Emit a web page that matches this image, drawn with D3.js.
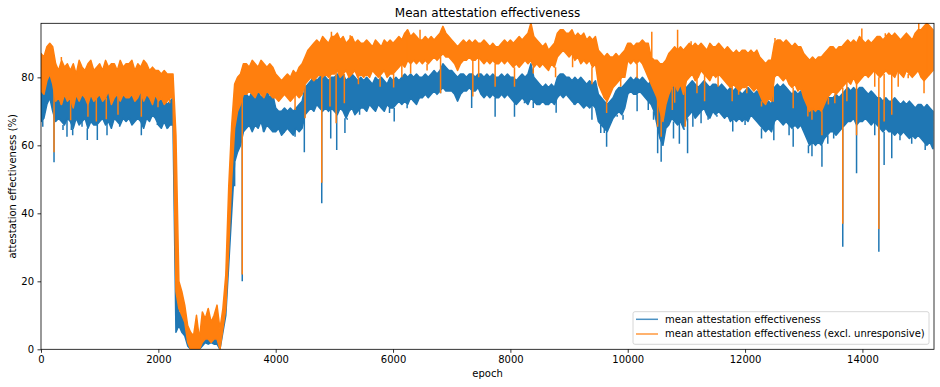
<!DOCTYPE html>
<html>
<head>
<meta charset="utf-8">
<script src="https://cdn.jsdelivr.net/npm/d3@7"></script>
<style>
  body { margin: 0; background: #fff; }
  text { font-family: "DejaVu Sans", sans-serif; fill: #000; }
</style>
</head>
<body>
<script>
// The raw series has one value per epoch, so it is drawn as the band it
// forms on screen: lowest and highest value for every
// 50-epoch bin, plus the single-epoch spikes that stick out of the band.
const epochStep = 50;

// mean attestation effectiveness
const meanHi = [
  80, 79, 82, 84, 83, 77, 76, 77, 75, 76,
  75, 76, 74, 76, 75, 77, 74, 76, 75, 77,
  76, 77, 75, 76, 77, 75, 76, 77, 76, 75,
  76, 75, 77, 76, 75, 76, 77, 75, 76, 75,
  74, 73, 74, 72, 73, 74, 20, 11, 10, 8,
  5, 2, 1, 2, 2, 3, 3.5, 3, 3, 3,
  3, 3, 9, 18, 36, 64, 68, 72, 72, 75,
  75, 74, 76, 75, 76, 74, 75, 76, 74, 75,
  71, 70, 70, 71, 70, 71, 70, 71, 72, 73,
  77, 78, 79, 80, 79, 80, 81, 80, 79, 80,
  80, 81, 80, 81, 79, 80, 81, 80, 79, 80,
  79, 80, 79, 78, 80, 79, 80, 79, 78, 80,
  79, 80, 79, 80, 81, 80, 81, 80, 81, 80,
  80, 81, 80, 81, 82, 81, 82, 84, 83, 82,
  82, 81, 80, 81, 81, 80, 81, 81, 80, 81,
  81, 80, 81, 80, 81, 80, 80, 81, 80, 81,
  80, 80, 79, 80, 81, 80, 81, 84, 80, 79,
  78, 77, 78, 77, 78, 77, 80, 81, 81, 80,
  80, 79, 80, 79, 80, 79, 78, 79, 78, 79,
  75, 74, 73, 72, 73, 74, 76, 77, 77, 78,
  79, 80, 79, 80, 79, 80, 79, 78, 79, 78,
  77, 76, 75, 76, 78, 79, 78, 79, 78, 77,
  77, 78, 79, 78, 77, 78, 79, 78, 77, 78,
  78, 77, 78, 77, 76, 77, 76, 77, 76, 75,
  76, 77, 76, 75, 76, 75, 73, 72, 73, 72,
  77, 78, 77, 78, 77, 76, 75, 76, 75, 76,
  74, 73, 72, 73, 72, 73, 72, 73, 74, 74,
  74, 75, 74, 75, 76, 77, 76, 77, 76, 77,
  77, 76, 75, 76, 75, 74, 74, 73, 74, 73,
  73, 74, 73, 72, 73, 72, 73, 72, 71, 72,
  72, 71, 72, 71, 70
];
const meanLo = [
  67, 68, 72, 74, 70, 67, 68, 67, 66, 68,
  67, 65, 68, 66, 67, 68, 65, 67, 66, 66,
  67, 68, 66, 67, 65, 68, 67, 66, 68, 67,
  68, 66, 67, 68, 67, 65, 68, 67, 69, 68,
  66, 65, 67, 65, 66, 66, 5, 7, 5, 4,
  1, 0, 0, 0, 0, 1, 2, 1.5, 2, 1.5,
  1.5, 0, 5, 10, 25, 40, 55, 58, 60, 64,
  65, 66, 64, 66, 65, 67, 64, 66, 65, 64,
  64, 65, 63, 64, 65, 64, 63, 65, 64, 65,
  69, 70, 71, 70, 72, 71, 70, 71, 70, 71,
  70, 69, 71, 70, 68, 70, 71, 69, 70, 71,
  71, 70, 72, 71, 70, 72, 71, 70, 72, 71,
  71, 72, 73, 72, 73, 72, 74, 73, 72, 74,
  74, 75, 74, 75, 76, 75, 76, 77, 76, 76,
  76, 75, 73, 75, 76, 76, 77, 76, 76, 77,
  75, 74, 75, 74, 75, 74, 74, 75, 74, 75,
  74, 73, 72, 73, 74, 73, 72, 74, 73, 72,
  72, 73, 72, 72, 73, 72, 74, 75, 74, 75,
  74, 73, 72, 73, 72, 71, 72, 71, 72, 71,
  67, 66, 65, 64, 66, 68, 69, 70, 69, 71,
  75, 76, 75, 75, 76, 75, 74, 73, 72, 70,
  66, 62, 60, 65, 66, 68, 67, 66, 67, 65,
  68, 69, 70, 68, 69, 70, 71, 69, 68, 70,
  69, 70, 69, 68, 69, 67, 68, 67, 68, 67,
  68, 67, 69, 68, 67, 66, 65, 64, 65, 64,
  67, 68, 67, 66, 67, 66, 65, 66, 65, 66,
  64, 62, 60, 61, 60, 61, 60, 62, 63, 64,
  64, 63, 64, 65, 66, 67, 67, 68, 66, 67,
  67, 68, 67, 66, 67, 66, 65, 64, 65, 64,
  64, 63, 64, 63, 64, 63, 62, 63, 62, 63,
  62, 61, 60, 61, 59
];
// [epoch, value]
const meanSpikes = [
  [30, 65.5], [222, 55], [278, 68.9], [375, 64.5], [443, 62.5], [517, 64.5],
  [540, 63], [699, 65.5], [789, 61.6], [960, 61.6], [1125, 63], [1341, 65.5],
  [1454, 67.4], [1710, 63], [1983, 66.5], [2165, 65.5], [2222, 66.5],
  [3300, 48], [3430, 20], [3790, 65.5], [3989, 64.5], [4142, 63.6], [4330, 62.5],
  [4488, 58], [4785, 43], [4938, 62], [5040, 58.6], [5180, 63.6], [5220, 67.5],
  [5430, 69], [5670, 70.4], [5940, 69.5], [6020, 67], [6240, 70.9], [6440, 73.8],
  [6810, 75.3], [7085, 73], [7340, 71], [7740, 68.4], [8070, 68.4], [8240, 72.4],
  [8390, 71], [8620, 72.4], [8780, 69.6], [9080, 72.4], [9310, 71.4], [9390, 67.5],
  [9540, 63.6], [9600, 63.6], [9640, 59.6], [9820, 68.4], [9920, 67.5], [10160, 70],
  [10350, 70.4], [10440, 67.5], [10510, 57.7], [10570, 55.2], [10780, 62],
  [10880, 60.5], [10960, 64.5], [11020, 57.7], [11110, 65.5], [11250, 66.5],
  [11370, 67.5], [11520, 68.4], [11790, 64.1], [12000, 66], [12280, 62],
  [12390, 64.5], [12490, 61.5], [12750, 63], [12820, 59.6], [13080, 57.7],
  [13140, 56.8], [13310, 53.7], [13410, 60.5], [13510, 62], [13665, 30.2],
  [13900, 51.8], [14050, 67.5], [14210, 63], [14280, 28.7], [14370, 54.2],
  [14500, 56.2], [14640, 61.5], [14840, 60.5], [15070, 58.6], [15210, 59]
];

// mean attestation effectiveness (excl. unresponsive)
const exclHi = [
  87, 86, 89, 90, 89, 84, 82, 85, 83, 84,
  82, 84, 81, 85, 83, 82, 84, 85, 82, 83,
  84, 82, 85, 83, 84, 84, 82, 85, 83, 84,
  84, 85, 82, 84, 83, 85, 84, 82, 83, 82,
  82, 81, 82, 81, 81, 81, 63, 20, 17, 13,
  7, 5, 4, 10, 3, 11, 9, 12, 8, 10,
  13, 6, 12, 22, 48, 66, 78, 80, 81, 84,
  84, 83, 85, 84, 83, 85, 84, 83, 84, 83,
  81, 80, 79, 80, 81, 80, 82, 81, 83, 84,
  86, 88, 89, 90, 91, 90, 92, 91, 90, 92,
  92, 93, 91, 92, 90, 91, 92, 90, 91, 90,
  90, 91, 90, 89, 91, 90, 89, 91, 90, 91,
  90, 91, 92, 91, 93, 94, 92, 93, 92, 91,
  91, 92, 91, 92, 91, 92, 93, 95, 93, 92,
  91, 90, 89, 90, 91, 90, 91, 90, 91, 90,
  90, 91, 90, 89, 90, 89, 89, 90, 91, 90,
  91, 90, 91, 92, 91, 92, 93, 96, 92, 91,
  90, 89, 90, 88, 89, 90, 93, 94, 94, 93,
  93, 94, 92, 93, 92, 93, 91, 92, 91, 92,
  88, 87, 86, 87, 86, 86, 87, 86, 87, 88,
  90, 90, 89, 90, 90, 91, 90, 90, 86, 85,
  85, 84, 84, 85, 87, 88, 89, 88, 89, 88,
  89, 90, 89, 90, 89, 90, 89, 88, 90, 89,
  89, 90, 89, 88, 89, 88, 87, 88, 87, 88,
  88, 87, 88, 87, 88, 86, 85, 84, 85, 85,
  90, 91, 91, 90, 91, 90, 89, 90, 89, 89,
  87, 86, 85, 86, 85, 86, 86, 87, 88, 89,
  89, 88, 89, 89, 90, 91, 90, 91, 90, 92,
  91, 90, 91, 90, 91, 92, 92, 91, 92, 93,
  92, 93, 92, 91, 92, 93, 92, 91, 93, 94,
  94, 95, 96, 95, 94
];
const exclLo = [
  76, 75, 79, 81, 78, 73, 74, 72, 75, 73,
  74, 71, 75, 73, 75, 74, 72, 75, 73, 74,
  75, 73, 74, 76, 72, 74, 75, 73, 75, 74,
  74, 75, 73, 74, 76, 73, 75, 74, 72, 75,
  73, 74, 72, 73, 74, 74, 17, 12, 10, 8,
  2, 0, 0, 0, 0, 2, 3, 3, 2, 3,
  3, 0, 6, 12, 30, 50, 65, 70, 72, 75,
  75, 76, 75, 74, 76, 75, 74, 76, 75, 74,
  74, 73, 74, 75, 74, 73, 74, 75, 74, 75,
  78, 79, 80, 79, 80, 81, 80, 81, 80, 81,
  81, 82, 80, 81, 82, 80, 81, 82, 80, 81,
  80, 81, 80, 82, 81, 80, 81, 82, 80, 81,
  81, 82, 83, 84, 83, 85, 84, 85, 84, 85,
  84, 85, 84, 85, 86, 85, 86, 87, 86, 86,
  85, 84, 82, 84, 85, 85, 86, 85, 85, 86,
  85, 84, 85, 84, 85, 84, 84, 85, 84, 85,
  84, 83, 84, 83, 84, 85, 84, 85, 83, 84,
  83, 84, 83, 82, 84, 83, 86, 87, 88, 87,
  86, 87, 85, 86, 84, 85, 84, 85, 83, 84,
  78, 76, 74, 73, 75, 77, 78, 79, 80, 80,
  85, 84, 85, 84, 85, 84, 82, 80, 78, 76,
  74, 70, 67, 72, 75, 77, 78, 76, 78, 75,
  79, 80, 81, 79, 80, 82, 81, 80, 79, 81,
  80, 81, 80, 79, 78, 77, 78, 77, 76, 77,
  77, 78, 77, 76, 77, 75, 73, 72, 74, 73,
  80, 81, 80, 79, 80, 78, 77, 78, 76, 77,
  74, 72, 70, 71, 70, 71, 70, 72, 74, 75,
  76, 75, 76, 77, 78, 79, 78, 80, 78, 79,
  80, 81, 80, 81, 82, 81, 80, 81, 82, 81,
  81, 80, 82, 81, 80, 82, 81, 80, 81, 82,
  80, 79, 80, 81, 82
];
const exclSpikes = [
  [222, 58], [335, 72.4], [347, 86], [505, 67.4], [800, 68.4], [943, 67],
  [1113, 67.7], [1312, 69], [1710, 68.4], [1994, 71.2], [2193, 72.4],
  [3430, 22], [4330, 70.4], [4500, 68], [4785, 49], [4925, 71.4], [4950, 93.4],
  [5030, 66.5], [5170, 72.4], [5270, 92.4], [5410, 78], [5610, 80], [5780, 77.2],
  [6010, 77], [6150, 80], [6240, 94], [6300, 81.1], [6460, 94], [6580, 82],
  [6810, 75.3], [7085, 82], [7360, 74.4], [7460, 80], [7740, 77.2], [8070, 77.2],
  [8390, 81.1], [8770, 80], [9060, 83], [9390, 78], [9600, 74.4], [9640, 69.5],
  [9880, 77.2], [10160, 79.7], [10410, 93.4], [10510, 65.5], [10570, 62.5],
  [10760, 70.4], [10800, 72.5], [10850, 94], [10980, 65.5], [11080, 90.6],
  [11180, 75.3], [11310, 73], [11540, 77.2], [11780, 73], [11890, 74.9],
  [12030, 75.3], [12280, 71.4], [12480, 72.8], [12510, 91.6], [12820, 70.9],
  [13070, 68.5], [13140, 67.5], [13310, 63], [13420, 72], [13530, 72.4],
  [13665, 36.9], [13735, 73], [13900, 63], [13990, 94.4], [14210, 77.2],
  [14280, 35.4], [14370, 67], [14390, 93], [14500, 69], [14610, 77.2],
  [14780, 79.7], [14960, 96], [15050, 75.3], [15100, 96]
];

const seriesNames = ['mean attestation effectiveness',
                     'mean attestation effectiveness (excl. unresponsive)'];
const seriesColors = ['#1f77b4', '#ff7f0e'];
const xTicks = [0, 2000, 4000, 6000, 8000, 10000, 12000, 14000];
const yTicks = [0, 20, 40, 60, 80];

const width = 940, height = 387;
const margin = {top: 23.3, right: 6, bottom: 37.7, left: 41};

const svg = d3.select('body').append('svg')
  .attr('width', width)
  .attr('height', height);

const x = d3.scaleLinear()
  .domain([0, 15220])
  .range([margin.left, width - margin.right]);

const y = d3.scaleLinear()
  .domain([0, 95.9])
  .range([height - margin.bottom, margin.top]);

svg.append('clipPath').attr('id', 'plot')
  .append('rect')
  .attr('x', x.range()[0]).attr('y', y.range()[1])
  .attr('width', x.range()[1] - x.range()[0])
  .attr('height', y.range()[0] - y.range()[1]);

const plot = svg.append('g').attr('clip-path', 'url(#plot)');

function drawSeries(hi, lo, spikes, color){
  const rows = hi.map((h, i) => ({epoch: i * epochStep, hi: h, lo: lo[i]}));
  const band = d3.area()
    .x(d => x(d.epoch))
    .y0(d => y(d.lo))
    .y1(d => y(d.hi));
  plot.append('path')
    .datum(rows)
    .attr('fill', color)
    .attr('stroke', color)
    .attr('stroke-width', 1.5)
    .attr('stroke-linejoin', 'round')
    .attr('d', band);

  // spikes run from the band edge of the nearest bin out to the spike value
  plot.append('g').selectAll('line')
    .data(spikes)
    .join('line')
    .attr('x1', d => x(d[0])).attr('x2', d => x(d[0]))
    .attr('y1', d => y(d[1]))
    .attr('y2', function(d){
      const r = rows[Math.round(d[0] / epochStep)];
      return y(d[1] > r.hi ? r.hi : r.lo);
    })
    .attr('stroke', color)
    .attr('stroke-width', 1.5);
}

drawSeries(meanHi, meanLo, meanSpikes, seriesColors[0]);
drawSeries(exclHi, exclLo, exclSpikes, seriesColors[1]);

// axes
const xAxis = d3.axisBottom(x).tickValues(xTicks).tickFormat(d3.format('d'))
  .tickSize(3.5).tickPadding(3.5).tickSizeOuter(0);
const gx = svg.append('g')
  .attr('transform', `translate(0,${y.range()[0]})`)
  .call(xAxis);

const yAxis = d3.axisLeft(y).tickValues(yTicks)
  .tickSize(3.5).tickPadding(3.5).tickSizeOuter(0);
const gy = svg.append('g')
  .attr('transform', `translate(${x.range()[0]},0)`)
  .call(yAxis);

[gx, gy].forEach(function(g){
  g.select('.domain').remove();
  g.selectAll('line').attr('stroke', '#000').attr('stroke-width', 0.8);
  g.selectAll('text').attr('font-size', 10).attr('font-family', 'DejaVu Sans');
});

// frame
svg.append('rect')
  .attr('x', x.range()[0]).attr('y', y.range()[1])
  .attr('width', x.range()[1] - x.range()[0])
  .attr('height', y.range()[0] - y.range()[1])
  .attr('fill', 'none')
  .attr('stroke', '#000')
  .attr('stroke-width', 0.8);

// labels
svg.append('text')
  .attr('x', (x.range()[0] + x.range()[1]) / 2)
  .attr('y', 17)
  .attr('text-anchor', 'middle')
  .attr('font-size', 12)
  .text('Mean attestation effectiveness');

svg.append('text')
  .attr('x', (x.range()[0] + x.range()[1]) / 2)
  .attr('y', 377)
  .attr('text-anchor', 'middle')
  .attr('font-size', 10)
  .text('epoch');

svg.append('text')
  .attr('transform', `translate(15.5,${(y.range()[0] + y.range()[1]) / 2}) rotate(-90)`)
  .attr('text-anchor', 'middle')
  .attr('font-size', 10)
  .text('attestation effectiveness (%)');

// legend
const legend = svg.append('g').attr('transform', 'translate(633,311.7)');
legend.append('rect')
  .attr('width', 296).attr('height', 32.6)
  .attr('rx', 2)
  .attr('fill', '#fff').attr('fill-opacity', 0.8)
  .attr('stroke', '#cccccc').attr('stroke-width', 0.8);

seriesNames.forEach(function(name, i){
  const ly = 7.6 + i * 14.7;
  legend.append('line')
    .attr('x1', 3).attr('x2', 25)
    .attr('y1', ly).attr('y2', ly)
    .attr('stroke', seriesColors[i])
    .attr('stroke-opacity', 0.8)
    .attr('stroke-width', 1.5);
  legend.append('text')
    .attr('x', 32).attr('y', ly)
    .attr('dy', '0.35em')
    .attr('font-size', 10)
    .text(name);
});
</script>
</body>
</html>
